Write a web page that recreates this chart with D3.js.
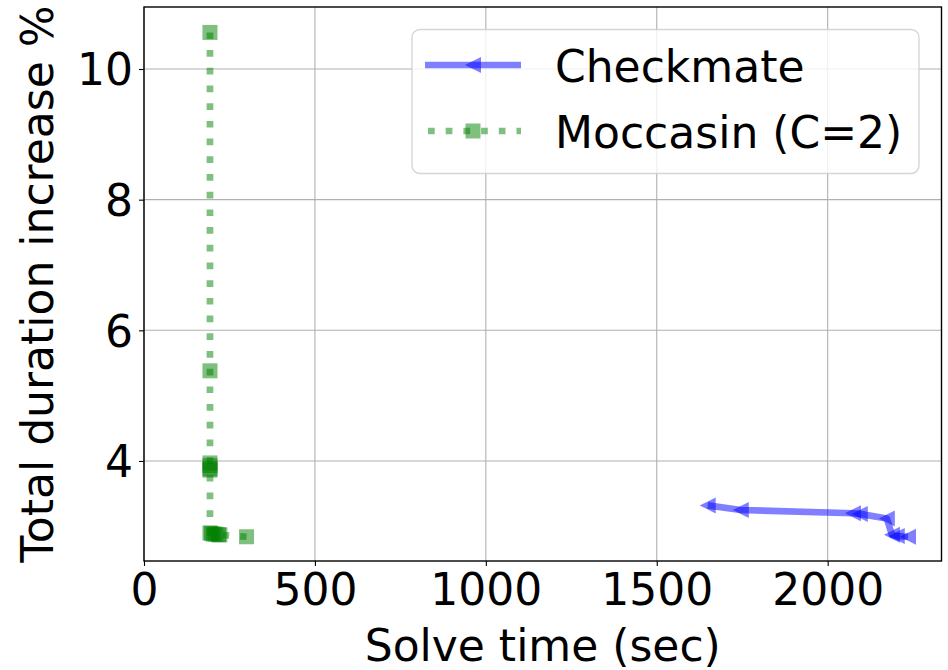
<!DOCTYPE html>
<html>
<head>
<meta charset="utf-8">
<script src="https://cdn.jsdelivr.net/npm/d3@7"></script>
<style>
  html, body { margin: 0; padding: 0; background: #fff; }
  text { font-family: "DejaVu Sans", sans-serif; fill: #000; }
</style>
</head>
<body>
<div class="chart"></div>
<script>
// values
var checkmateTime = [1649, 1746, 2074, 2094, 2173, 2188, 2202, 2235];
var checkmateIncrease = [3.32, 3.25, 3.20, 3.19, 3.12, 2.87, 2.85, 2.84];

var moccasinTime = [193, 193, 193, 193, 193, 193, 193, 197, 203, 210, 218, 222, 300];
var moccasinIncrease = [10.56, 5.38, 3.97, 3.93, 3.88, 3.86, 2.90, 2.89, 2.88, 2.88, 2.87, 2.87, 2.84];

var xTicks = [0, 500, 1000, 1500, 2000];
var yTicks = [4, 6, 8, 10];

var seriesNames = ["Checkmate", "Moccasin (C=2)"];

// conventional margins
var margin = {top: 7, right: 6.5, bottom: 109, left: 144},
    width = 948 - margin.left - margin.right,
    height = 670 - margin.top - margin.bottom;

var svg = d3.select(".chart").append("svg")
    .attr("width", 948)
    .attr("height", 670);
var g = svg.append("g")
    .attr("transform", "translate(" + margin.left + "," + margin.top + ")");

var x = d3.scaleLinear().domain([0, 2333]).range([0, width]);
var y = d3.scaleLinear().domain([2.469, 10.949]).range([height, 0]);

// grid
g.append("g").selectAll("line").data(xTicks).enter().append("line")
    .attr("x1", function(d){ return x(d); }).attr("x2", function(d){ return x(d); })
    .attr("y1", 0).attr("y2", height)
    .attr("stroke", "#b0b0b0").attr("stroke-width", 1.1);
g.append("g").selectAll("line").data(yTicks).enter().append("line")
    .attr("y1", function(d){ return y(d); }).attr("y2", function(d){ return y(d); })
    .attr("x1", 0).attr("x2", width)
    .attr("stroke", "#b0b0b0").attr("stroke-width", 1.1);

// axes
var xAxis = g.append("g")
    .attr("transform", "translate(0," + height + ")")
    .call(d3.axisBottom(x).tickValues(xTicks).tickSize(5).tickPadding(6).tickFormat(d3.format("d")));
var yAxis = g.append("g")
    .call(d3.axisLeft(y).tickValues(yTicks).tickSize(5).tickPadding(6).tickFormat(d3.format("d")));
[xAxis, yAxis].forEach(function(a){
    a.select(".domain").remove();
    a.selectAll(".tick line").attr("stroke", "#000").attr("stroke-width", 1.1);
    a.selectAll(".tick text").style("font-size", "44px").style("font-family", "DejaVu Sans");
});
xAxis.selectAll(".tick text").attr("dy", "0.76em");
yAxis.selectAll(".tick text").attr("dy", "0.36em");

var cData = checkmateTime.map(function(t, i){ return {x: t, y: checkmateIncrease[i]}; });
var mData = moccasinTime.map(function(t, i){ return {x: t, y: moccasinIncrease[i]}; });

var line = d3.line().x(function(d){ return x(d.x); }).y(function(d){ return y(d.y); });

// checkmate
g.append("path").datum(cData)
    .attr("d", line)
    .attr("fill", "none")
    .attr("stroke", "blue").attr("stroke-opacity", 0.5)
    .attr("stroke-width", 6.7)
    .attr("stroke-linejoin", "round");

var tri = function(s){ return "M" + (-s) + ",0L" + s + "," + (-s) + "L" + s + "," + s + "Z"; };
g.append("g").selectAll("path").data(cData).enter().append("path")
    .attr("d", tri(8))
    .attr("transform", function(d){ return "translate(" + x(d.x) + "," + y(d.y) + ")"; })
    .attr("fill", "blue").attr("fill-opacity", 0.5);

// moccasin
g.append("path").datum(mData)
    .attr("d", line)
    .attr("fill", "none")
    .attr("stroke", "green").attr("stroke-opacity", 0.5)
    .attr("stroke-width", 6.7)
    .attr("stroke-dasharray", "6.7,11");

g.append("g").selectAll("rect").data(mData).enter().append("rect")
    .attr("x", function(d){ return x(d.x) - 7.5; })
    .attr("y", function(d){ return y(d.y) - 7.5; })
    .attr("width", 15).attr("height", 15)
    .attr("fill", "green").attr("fill-opacity", 0.5);

// frame
g.append("rect")
    .attr("x", 0).attr("y", 0).attr("width", width).attr("height", height)
    .attr("fill", "none").attr("stroke", "#000").attr("stroke-width", 1.4);

// axis labels
svg.append("text")
    .attr("x", margin.left + width / 2).attr("y", 661)
    .attr("text-anchor", "middle")
    .style("font-size", "44px")
    .text("Solve time (sec)");
svg.append("text")
    .attr("transform", "translate(53," + (margin.top + height / 2) + ") rotate(-90)")
    .attr("text-anchor", "middle")
    .style("font-size", "44px")
    .text("Total duration increase %");

// legend
var legend = svg.append("g");
legend.append("rect")
    .attr("x", 412).attr("y", 29.5).attr("width", 507).attr("height", 144)
    .attr("rx", 8).attr("ry", 8)
    .attr("fill", "#fff").attr("fill-opacity", 0.8)
    .attr("stroke", "#ccc").attr("stroke-opacity", 0.8).attr("stroke-width", 1.4);

legend.append("line")
    .attr("x1", 425).attr("x2", 521).attr("y1", 65).attr("y2", 65)
    .attr("stroke", "blue").attr("stroke-opacity", 0.5).attr("stroke-width", 6.7);
legend.append("path")
    .attr("d", tri(8))
    .attr("transform", "translate(473,65)")
    .attr("fill", "blue").attr("fill-opacity", 0.5);

legend.append("line")
    .attr("x1", 428).attr("x2", 521).attr("y1", 131).attr("y2", 131)
    .attr("stroke", "green").attr("stroke-opacity", 0.5).attr("stroke-width", 6.7)
    .attr("stroke-dasharray", "6.7,11");
legend.append("rect")
    .attr("x", 465.5).attr("y", 123.5).attr("width", 15).attr("height", 15)
    .attr("fill", "green").attr("fill-opacity", 0.5);

legend.selectAll(".ltext").data(seriesNames).enter().append("text")
    .attr("class", "ltext")
    .attr("x", 555)
    .attr("y", function(d, i){ return 81.5 + i * 66; })
    .style("font-size", "44px")
    .text(function(d){ return d; });
</script>
</body>
</html>
